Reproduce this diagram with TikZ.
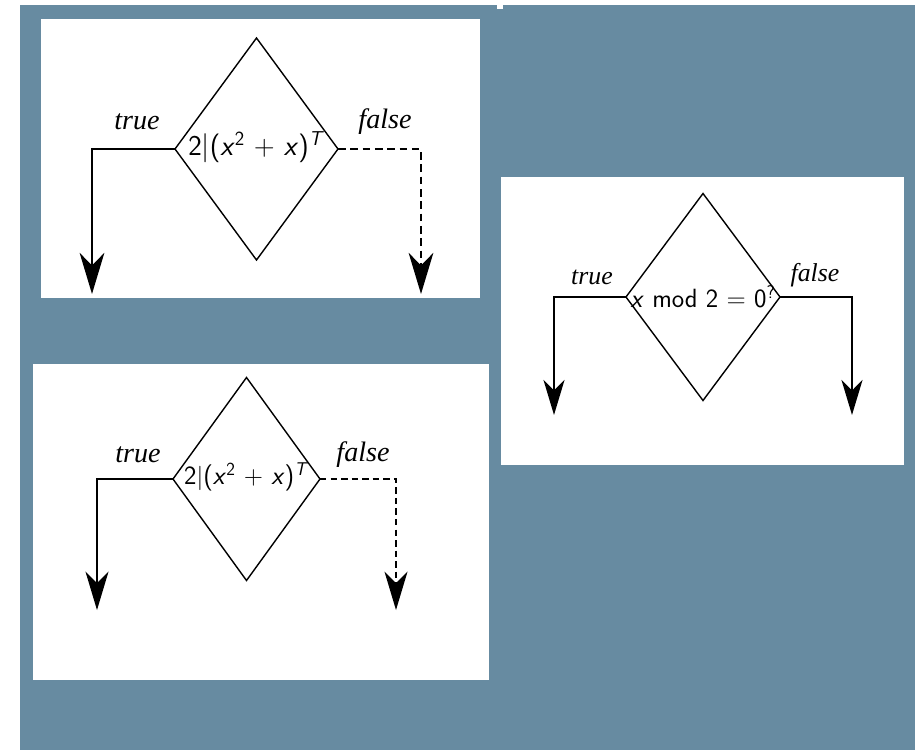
\documentclass[tikz,border=0pt]{standalone}
\usepackage{fontspec}
\newfontfamily\labfont{Liberation Serif}
\usetikzlibrary{arrows.meta,shapes.geometric}
\definecolor{slate}{RGB}{103,139,161}

\tikzset{
  panel/.style={fill=white, draw=none},
  decision/.style={diamond, draw, line width=1.2pt, inner sep=0pt, outer sep=0pt},
  branch/.style={font=\labfont\itshape\fontsize{24}{24}\selectfont, inner sep=0pt},
  cond/.style={font=\sffamily\fontsize{24.5}{24.5}\selectfont, inner sep=0pt},
  bigtip/.style={-{Stealth[length=#1, width=0.6*#1, inset=0.3*#1]}},
}

\begin{document}
\begin{tikzpicture}[x=0.03cm, y=-0.03cm]
  \useasboundingbox (0,0) rectangle (915,750);
  \fill[slate] (20,5) rectangle (915,750);
  \fill[white] (497,5) rectangle (503,9);

  % upper left panel, thick lines
  \fill[panel] (41,19) rectangle (480,298);
  \node[decision, minimum width=4.89cm, minimum height=6.66cm] (dA) at (256.5,149) {};
  \node[cond] (cA) at ([yshift=0.06cm]dA.center) {2$|$(\textsl{x}\textsuperscript{2} + \textsl{x})\textsuperscript{\textsl{T}}};
  \node[branch] (tA) at (137,122) {true};
  \node[branch] (fA) at (385,122) {false};
  \coordinate (eA1) at (92,294);
  \coordinate (eA2) at (421,294);
  \draw[line width=2.2pt, bigtip=1.23cm] (dA.west) -| (eA1);
  \draw[line width=2.2pt, dash pattern=on 6.5pt off 4pt, bigtip=1.23cm] (dA.east) -| (eA2);

  % lower left panel, thin lines
  \fill[panel] (33,364) rectangle (489,680);
  \node[decision, minimum width=4.41cm, minimum height=6.09cm] (dB) at (246.5,479) {};
  \node[cond, font=\sffamily\fontsize{22.5}{22.5}\selectfont] (cB) at ([yshift=0.06cm]dB.center) {2$|$(\textsl{x}\textsuperscript{2} + \textsl{x})\textsuperscript{\textsl{T}}};
  \node[branch] (tB) at (138,455) {true};
  \node[branch] (fB) at (363,455) {false};
  \coordinate (eB1) at (97,610);
  \coordinate (eB2) at (396,610);
  \draw[line width=1.3pt, bigtip=1.15cm] (dB.west) -| (eB1);
  \draw[line width=1.3pt, dash pattern=on 5.5pt off 3.5pt, bigtip=1.15cm] (dB.east) -| (eB2);

  % right panel
  \fill[panel] (501,177) rectangle (904,465);
  \node[decision, minimum width=4.62cm, minimum height=6.21cm] (dC) at (703,297) {};
  \node[cond, font=\sffamily\fontsize{22.5}{22.5}\selectfont] (cC) at (dC.center) {\textsl{x} mod 2 = 0\textsuperscript{?}};
  \node[branch, font=\labfont\itshape\fontsize{22}{22}\selectfont] (tC) at (592,277) {true};
  \node[branch, font=\labfont\itshape\fontsize{22}{22}\selectfont] (fC) at (815,275) {false};
  \coordinate (eC1) at (554,415);
  \coordinate (eC2) at (852,415);
  \draw[line width=1.7pt, bigtip=1.05cm] (dC.west) -| (eC1);
  \draw[line width=1.7pt, bigtip=1.05cm] (dC.east) -| (eC2);
\end{tikzpicture}
\end{document}
